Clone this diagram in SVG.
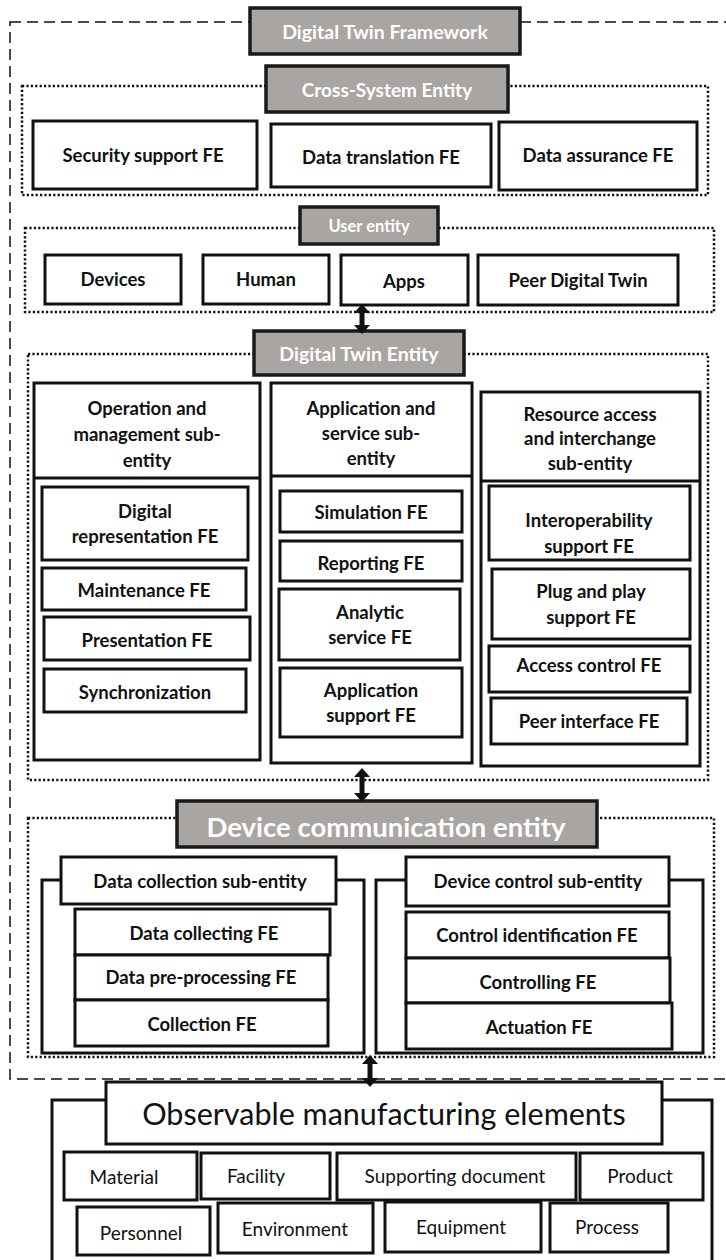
<svg xmlns="http://www.w3.org/2000/svg" width="726" height="1260" viewBox="0 0 726 1260">
  <style>
    .box { fill: #fff; stroke: #111; stroke-width: 3; }
    .gray { fill: #a9a5a3; stroke: #1a1a1a; stroke-width: 3.5; }
    .dot { fill: none; stroke: #111; stroke-width: 2.5; stroke-dasharray: 2.2 2.2; }
    .dash { fill: none; stroke: #111; stroke-width: 1.5; stroke-dasharray: 11 6; }
    .line { fill: none; stroke: #111; stroke-width: 3; }
    text { font-family: Lato, "Liberation Sans", sans-serif; text-anchor: middle; dominant-baseline: central; fill: #111; }
    .b { font-weight: 700; font-size: 18.5px; }
    .w { font-weight: 700; fill: #fff; }
    .r { font-weight: 400; font-size: 19px; }
    .arrow { fill: #111; }
  </style>

  <!-- framework boundary -->
  <rect class="dash" x="10" y="22" width="730" height="1057"/>

  <g id="framework-title">
    <rect class="gray" x="250" y="8" width="270" height="46"/>
    <text class="w" x="385" y="31" font-size="19.5">Digital Twin Framework</text>
  </g>

  <!-- Cross-system entity -->
  <g id="cross-system-entity">
    <rect class="dot" x="22" y="86" width="686" height="109"/>
    <rect class="gray" x="266" y="66" width="242" height="46"/>
    <text class="w" x="387" y="89" font-size="19">Cross-System Entity</text>
  </g>
  <g id="security-support">
    <rect class="box" x="33" y="121" width="224" height="68"/>
    <text class="b" x="143" y="155">Security support FE</text>
  </g>
  <g id="data-translation">
    <rect class="box" x="271" y="124" width="220" height="63"/>
    <text class="b" x="381" y="157">Data translation FE</text>
  </g>
  <g id="data-assurance">
    <rect class="box" x="499" y="122" width="198" height="68"/>
    <text class="b" x="598" y="155">Data assurance FE</text>
  </g>

  <!-- User entity -->
  <g id="user-entity">
    <rect class="dot" x="25" y="228" width="689" height="84"/>
    <rect class="gray" x="300" y="207" width="138" height="37"/>
    <text class="w" x="369" y="226" font-size="16.5">User entity</text>
  </g>
  <g id="devices">
    <rect class="box" x="45" y="255" width="136" height="49"/>
    <text class="b" x="113" y="279">Devices</text>
  </g>
  <g id="human">
    <rect class="box" x="203" y="255" width="126" height="49"/>
    <text class="b" x="266" y="279">Human</text>
  </g>
  <g id="apps">
    <rect class="box" x="341" y="255" width="127" height="50"/>
    <text class="b" x="404" y="281">Apps</text>
  </g>
  <g id="peer-digital-twin">
    <rect class="box" x="478" y="255" width="200" height="50"/>
    <text class="b" x="578" y="280">Peer Digital Twin</text>
  </g>

  <!-- Digital twin entity -->
  <g id="digital-twin-entity">
    <rect class="dot" x="28" y="354" width="680" height="426"/>
    <rect class="gray" x="254" y="331" width="210" height="44"/>
    <text class="w" x="359" y="353" font-size="19.5">Digital Twin Entity</text>
  </g>

  <g id="operation-management">
    <rect class="box" x="34" y="383" width="226" height="377"/>
    <line class="line" x1="34" y1="478" x2="260" y2="478"/>
    <text class="b" x="147" y="408">Operation and</text>
    <text class="b" x="147" y="434">management sub-</text>
    <text class="b" x="147" y="460">entity</text>
  </g>
  <g id="digital-representation">
    <rect class="box" x="42" y="487" width="206" height="73"/>
    <text class="b" x="145" y="511">Digital</text>
    <text class="b" x="145" y="536">representation FE</text>
  </g>
  <g id="maintenance">
    <rect class="box" x="42" y="568" width="204" height="42"/>
    <text class="b" x="144" y="590">Maintenance FE</text>
  </g>
  <g id="presentation">
    <rect class="box" x="44" y="617" width="206" height="43"/>
    <text class="b" x="147" y="640">Presentation FE</text>
  </g>
  <g id="synchronization">
    <rect class="box" x="44" y="669" width="202" height="43"/>
    <text class="b" x="145" y="692">Synchronization</text>
  </g>

  <g id="application-service">
    <rect class="box" x="271" y="383" width="201" height="380"/>
    <line class="line" x1="271" y1="476" x2="472" y2="476"/>
    <text class="b" x="371" y="408">Application and</text>
    <text class="b" x="371" y="433">service sub-</text>
    <text class="b" x="371" y="458">entity</text>
  </g>
  <g id="simulation">
    <rect class="box" x="280" y="491" width="182" height="41"/>
    <text class="b" x="371" y="512">Simulation FE</text>
  </g>
  <g id="reporting">
    <rect class="box" x="280" y="541" width="182" height="40"/>
    <text class="b" x="371" y="563">Reporting FE</text>
  </g>
  <g id="analytic-service">
    <rect class="box" x="279" y="589" width="181" height="71"/>
    <text class="b" x="370" y="612">Analytic</text>
    <text class="b" x="370" y="637">service FE</text>
  </g>
  <g id="application-support">
    <rect class="box" x="280" y="668" width="182" height="69"/>
    <text class="b" x="371" y="690">Application</text>
    <text class="b" x="371" y="715">support FE</text>
  </g>

  <g id="resource-access">
    <rect class="box" x="481" y="392" width="219" height="374"/>
    <line class="line" x1="481" y1="481" x2="700" y2="481"/>
    <text class="b" x="590" y="414">Resource access</text>
    <text class="b" x="590" y="438">and interchange</text>
    <text class="b" x="590" y="463">sub-entity</text>
  </g>
  <g id="interoperability">
    <rect class="box" x="489" y="486" width="201" height="74"/>
    <text class="b" x="589" y="520">Interoperability</text>
    <text class="b" x="589" y="546">support FE</text>
  </g>
  <g id="plug-and-play">
    <rect class="box" x="492" y="569" width="198" height="70"/>
    <text class="b" x="591" y="591">Plug and play</text>
    <text class="b" x="591" y="617">support FE</text>
  </g>
  <g id="access-control">
    <rect class="box" x="489" y="646" width="201" height="46"/>
    <text class="b" x="589" y="665">Access control FE</text>
  </g>
  <g id="peer-interface">
    <rect class="box" x="491" y="698" width="196" height="46"/>
    <text class="b" x="589" y="721">Peer interface FE</text>
  </g>

  <!-- Device communication entity -->
  <g id="device-communication-entity">
    <rect class="dot" x="28" y="818" width="686" height="239"/>
    <rect class="gray" x="177" y="801" width="420" height="46" stroke-width="2"/>
    <text class="w" x="386" y="826" font-size="27.5">Device communication entity</text>
  </g>

  <g id="data-collection">
    <rect class="box" x="42" y="880" width="322" height="173"/>
    <rect class="box" x="61" y="857" width="275" height="47"/>
    <text class="b" x="200" y="881">Data collection sub-entity</text>
  </g>
  <g id="data-collecting">
    <rect class="box" x="75" y="909" width="255" height="46"/>
    <text class="b" x="204" y="933">Data collecting FE</text>
  </g>
  <g id="data-preprocessing">
    <rect class="box" x="75" y="955" width="253" height="45"/>
    <text class="b" x="201" y="977">Data pre-processing FE</text>
  </g>
  <g id="collection">
    <rect class="box" x="75" y="1000" width="253" height="46"/>
    <text class="b" x="202" y="1024">Collection FE</text>
  </g>

  <g id="device-control">
    <rect class="box" x="376" y="880" width="327" height="173"/>
    <rect class="box" x="406" y="857" width="263" height="49"/>
    <text class="b" x="538" y="881">Device control sub-entity</text>
  </g>
  <g id="control-identification">
    <rect class="box" x="406" y="912" width="263" height="46"/>
    <text class="b" x="537" y="935">Control identification FE</text>
  </g>
  <g id="controlling">
    <rect class="box" x="406" y="958" width="264" height="45"/>
    <text class="b" x="538" y="982">Controlling FE</text>
  </g>
  <g id="actuation">
    <rect class="box" x="406" y="1003" width="266" height="46"/>
    <text class="b" x="539" y="1027">Actuation FE</text>
  </g>

  <!-- Observable manufacturing elements -->
  <g id="observable-elements">
    <rect class="box" x="52" y="1100" width="660" height="170"/>
    <rect class="box" x="106" y="1082" width="556" height="62"/>
    <text x="384" y="1113" font-size="30.5">Observable manufacturing elements</text>
  </g>
  <g id="material">
    <rect class="box" x="64" y="1152" width="133" height="48"/>
    <text class="r" x="124" y="1176">Material</text>
  </g>
  <g id="facility">
    <rect class="box" x="201" y="1153" width="129" height="46"/>
    <text class="r" x="256" y="1175">Facility</text>
  </g>
  <g id="supporting-document">
    <rect class="box" x="337" y="1153" width="239" height="47"/>
    <text class="r" x="455" y="1175">Supporting document</text>
  </g>
  <g id="product">
    <rect class="box" x="580" y="1153" width="123" height="47"/>
    <text class="r" x="640" y="1175">Product</text>
  </g>
  <g id="personnel">
    <rect class="box" x="77" y="1207" width="133" height="48"/>
    <text class="r" x="141" y="1232">Personnel</text>
  </g>
  <g id="environment">
    <rect class="box" x="218" y="1203" width="155" height="50"/>
    <text class="r" x="295" y="1228">Environment</text>
  </g>
  <g id="equipment">
    <rect class="box" x="385" y="1202" width="156" height="50"/>
    <text class="r" x="461" y="1226">Equipment</text>
  </g>
  <g id="process">
    <rect class="box" x="550" y="1203" width="118" height="49"/>
    <text class="r" x="607" y="1226">Process</text>
  </g>

  <!-- two-way links between layers -->
  <g id="connectors">
    <g class="arrow">
      <rect x="359.5" y="310" width="5" height="18"/>
      <polygon points="354,313 370,313 362,304"/>
      <polygon points="354,325 370,325 362,334"/>
    </g>
    <g class="arrow">
      <rect x="359.5" y="775" width="5" height="20"/>
      <polygon points="354,777 370,777 362,768"/>
      <polygon points="354,793 370,793 362,802"/>
    </g>
    <g class="arrow">
      <rect x="367.5" y="1062" width="5" height="18"/>
      <polygon points="362,1064 378,1064 370,1055"/>
      <polygon points="362,1078 378,1078 370,1087"/>
    </g>
  </g>
</svg>
